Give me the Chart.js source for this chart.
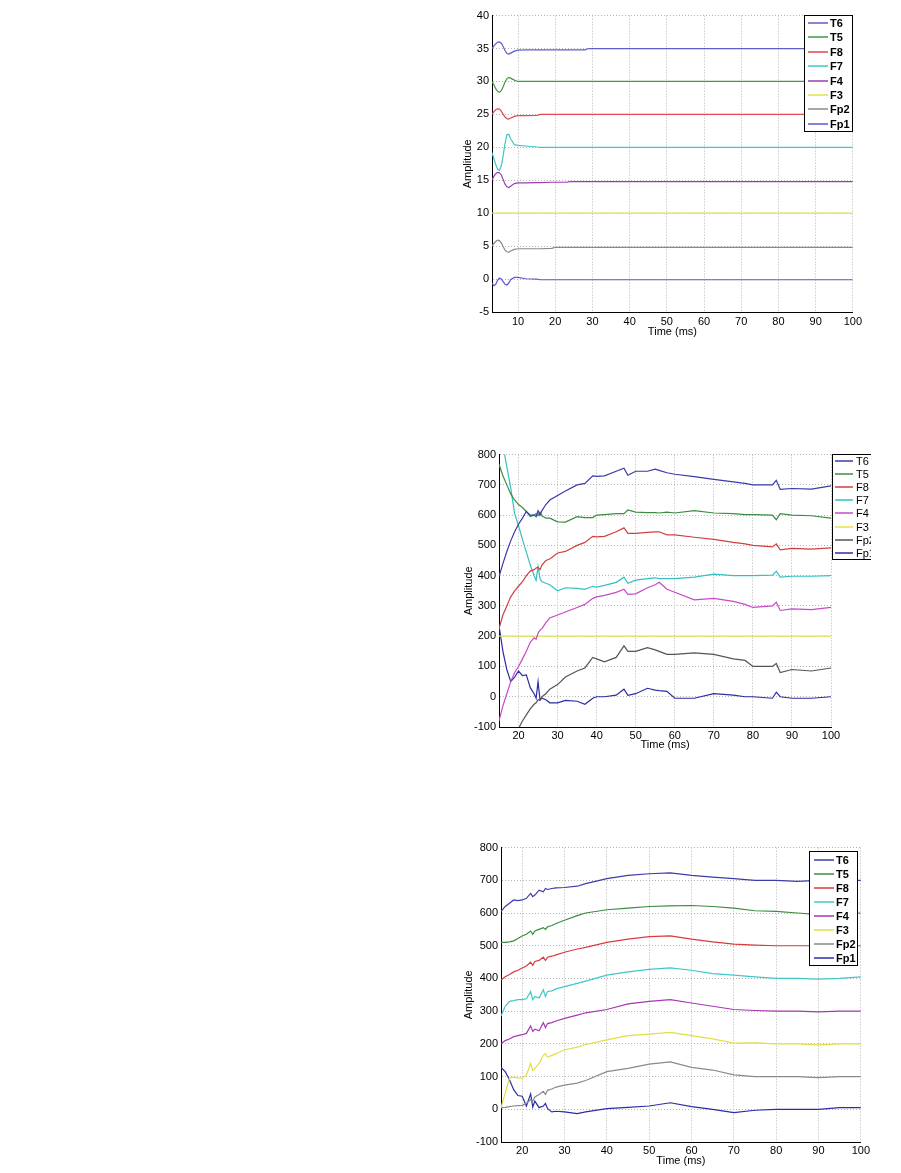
<!DOCTYPE html>
<html>
<head>
<meta charset="utf-8">
<title>EEG channel amplitudes</title>
<script src="https://cdn.jsdelivr.net/npm/chart.js@4.4.1/dist/chart.umd.min.js"></script>
<style>
  html, body { margin: 0; padding: 0; background: #fff; overflow: hidden; }
  body { width: 901px; height: 1173px; position: relative; }
  canvas { position: absolute; }
</style>
</head>
<body>
<canvas id="c1" width="407" height="336" style="left:458px;top:6px"></canvas>
<canvas id="c2" width="412" height="311" style="left:459px;top:445px"></canvas>
<canvas id="c3" width="413" height="334" style="left:459px;top:838px"></canvas>
<script>
// channel names, legend order (top line first)
var channels = ['T6', 'T5', 'F8', 'F7', 'F4', 'F3', 'Fp2', 'Fp1'];

// tick labels
var xTicks1 = [10, 20, 30, 40, 50, 60, 70, 80, 90, 100];
var yTicks1 = [-5, 0, 5, 10, 15, 20, 25, 30, 35, 40];
var xTicks23 = [20, 30, 40, 50, 60, 70, 80, 90, 100];
var yTicks23 = [-100, 0, 100, 200, 300, 400, 500, 600, 700, 800];

// --- chart 1 (top) : time (ms) and amplitudes ---
var t1 = [3, 3.5, 4, 4.5, 5, 5.5, 6, 6.5, 7, 7.5, 8, 9, 10, 12, 15, 16, 19, 20, 23, 24, 28, 29, 100];
var s1T6  = [35.0, 35.4, 35.7, 35.95, 36.0, 35.8, 35.3, 34.7, 34.25, 34.15, 34.3, 34.6, 34.75, 34.8, 34.8, 34.8, 34.8, 34.8, 34.8, 34.8, 34.8, 35.0, 35.0];
var s1T5  = [30.0, 29.5, 28.9, 28.5, 28.35, 28.6, 29.2, 29.9, 30.4, 30.6, 30.5, 30.2, 30.0, 30, 30, 30, 30, 30, 30, 30, 30, 30, 30];
var s1F8  = [25.0, 25.4, 25.7, 25.85, 25.8, 25.5, 25.0, 24.6, 24.35, 24.3, 24.45, 24.7, 24.8, 24.8, 24.85, 25, 25, 25, 25, 25, 25, 25, 25];
var s1F7  = [19.2, 18.3, 17.4, 16.7, 16.5, 17.2, 18.7, 20.6, 21.9, 22.0, 21.3, 20.4, 20.3, 20.2, 20.05, 20, 20, 20, 20, 20, 20, 20, 20];
var s1F4  = [15.0, 15.6, 16.0, 16.2, 16.15, 15.8, 15.1, 14.4, 14.0, 13.9, 14.1, 14.5, 14.6, 14.6, 14.65, 14.65, 14.7, 14.7, 14.7, 14.8, 14.8, 14.8, 14.8];
var s1F3  = [10, 10, 10, 10, 10, 10, 10, 10, 10, 10, 10, 10, 10, 10, 10, 10, 10, 10, 10, 10, 10, 10, 10];
var s1Fp2 = [5.0, 5.4, 5.7, 5.9, 5.85, 5.5, 4.9, 4.4, 4.15, 4.1, 4.25, 4.5, 4.6, 4.6, 4.6, 4.6, 4.65, 4.8, 4.8, 4.8, 4.8, 4.8, 4.8];
var s1Fp1 = [-0.6, -1.0, -0.8, -0.2, 0.15, 0.0, -0.4, -0.8, -0.9, -0.6, -0.1, 0.25, 0.25, 0.05, 0.0, -0.1, -0.1, -0.1, -0.1, -0.1, -0.1, -0.1, -0.1];

// --- chart 2 (middle) ---
var t2 = [15, 16, 17, 18, 19, 20, 21, 22, 23, 24, 24.5, 25, 25.5, 26, 27, 28, 30, 32, 35, 37, 39, 40, 42, 45, 47, 48, 50, 53, 55, 56, 58, 60, 65, 70, 75, 78, 80, 85, 86, 87, 90, 95, 100];
var s2T6  = [397, 440, 480, 515, 545, 570, 590, 612, 600, 600, 595, 615, 600, 615, 635, 650, 665, 680, 700, 705, 730, 728, 730, 745, 755, 732, 745, 745, 752, 748, 740, 735, 727, 718, 710, 705, 700, 700, 715, 685, 688, 686, 697];
var s2T5  = [768, 730, 700, 670, 650, 635, 625, 612, 595, 600, 605, 598, 610, 598, 590, 590, 578, 577, 595, 592, 592, 600, 602, 605, 605, 617, 610, 608, 608, 607, 610, 607, 615, 607, 605, 602, 602, 600, 585, 605, 600, 598, 590];
var s2F8  = [225, 270, 300, 330, 350, 365, 380, 400, 415, 420, 425, 428, 420, 435, 450, 455, 475, 480, 500, 510, 530, 528, 530, 545, 558, 540, 540, 543, 545, 545, 535, 535, 527, 520, 510, 505, 500, 495, 505, 485, 490, 488, 492];
var s2F7  = [880, 830, 760, 690, 605, 565, 520, 478, 435, 400, 385, 430, 390, 380, 375, 370, 350, 360, 358, 355, 365, 362, 368, 378, 395, 375, 385, 390, 393, 390, 390, 390, 395, 405, 400, 400, 400, 402, 415, 395, 398, 398, 400];
var s2F4  = [-80, -30, 10, 50, 80, 100, 125, 150, 180, 195, 190, 210, 220, 225, 245, 260, 270, 280, 295, 305, 325, 330, 335, 345, 355, 338, 340, 360, 370, 378, 355, 345, 320, 325, 315, 305, 295, 300, 312, 285, 290, 288, 295];
var s2F3  = [200, 200, 200, 200, 200, 200, 200, 200, 200, 200, 200, 200, 200, 200, 200, 200, 200, 200, 200, 200, 200, 200, 200, 200, 200, 200, 200, 200, 200, 200, 200, 200, 200, 200, 200, 200, 200, 200, 200, 200, 200, 200, 200];
var s2Fp2 = [-260, -230, -200, -170, -135, -105, -80, -60, -40, -25, -20, -10, -12, 0, 10, 25, 40, 65, 85, 95, 130, 125, 115, 130, 168, 150, 150, 162, 155, 150, 140, 140, 145, 140, 125, 120, 100, 100, 110, 80, 90, 85, 95];
var s2Fp1 = [235, 150, 90, 50, 65, 85, 70, 72, 30, 10, -5, 50, -10, -5, -10, -20, -20, -12, -15, -25, -5, 0, 0, 5, 25, 5, 10, 28, 22, 20, 18, -5, -5, 10, 5, 0, 0, -5, 15, 0, -5, -5, 0];

// --- chart 3 (bottom) ---
var t3 = [15, 16, 17, 18, 19, 20, 21, 22, 22.5, 23, 24, 25, 25.5, 26, 27, 28, 30, 33, 35, 40, 45, 50, 55, 60, 65, 70, 75, 80, 85, 90, 95, 100];
var s3T6  = [605, 620, 630, 640, 638, 640, 645, 660, 650, 655, 670, 665, 675, 672, 675, 677, 678, 682, 690, 705, 715, 720, 723, 715, 710, 705, 700, 700, 697, 700, 698, 700];
var s3T5  = [510, 510, 512, 515, 522, 530, 535, 545, 535, 545, 550, 555, 550, 558, 562, 568, 578, 592, 600, 610, 615, 620, 622, 623, 620, 615, 607, 605, 600, 595, 597, 600];
var s3F8  = [395, 405, 412, 420, 425, 432, 438, 450, 440, 452, 455, 465, 455, 465, 468, 472, 480, 490, 495, 510, 520, 528, 530, 520, 512, 505, 502, 500, 500, 500, 500, 500];
var s3F7  = [285, 315, 330, 332, 335, 335, 338, 360, 335, 345, 340, 365, 345, 360, 362, 368, 375, 385, 392, 410, 420, 428, 432, 425, 415, 410, 405, 400, 400, 398, 400, 405];
var s3F4  = [200, 210, 215, 222, 225, 228, 232, 255, 238, 245, 240, 265, 250, 262, 265, 270, 278, 288, 295, 305, 322, 330, 335, 325, 315, 305, 302, 300, 300, 298, 300, 300];
var s3F3  = [5, 50, 95, 98, 96, 95, 105, 140, 118, 125, 140, 165, 170, 160, 165, 170, 182, 190, 198, 212, 225, 230, 235, 225, 215, 202, 203, 200, 200, 197, 200, 200];
var s3Fp2 = [5, 6, 8, 10, 11, 12, 18, 30, 25, 38, 45, 55, 45, 58, 62, 68, 74, 80, 88, 115, 125, 138, 145, 128, 120, 105, 100, 100, 100, 97, 100, 100];
var s3Fp1 = [128, 115, 90, 60, 42, 40, 10, 47, 7, 25, 5, 10, 18, 2, -8, -6, -8, -13, -8, 2, 6, 10, 20, 8, 0, -10, -3, 0, 0, 0, 5, 5];

// line colours per chart
var colors1 = ['#5f5fc8', '#3f9a48', '#dc4a52', '#3cc8c8', '#9a3cb0', '#e2e24e', '#8a8a8a', '#5a5ad0'];
var colors2 = ['#3a3aaa', '#3c8c40', '#d04040', '#34c0c0', '#c848c8', '#e2e24a', '#555555', '#2c2ca4'];
var colors3 = ['#3c3caa', '#3c8c40', '#d83c40', '#40c8c8', '#a838b0', '#e0e044', '#8a8a8a', '#2c2caa'];

(function() {
  'use strict';

  var FONT = "'Liberation Sans', Arial, sans-serif";

  function pts(t, v) {
    return t.map(function(x, i) { return { x: x, y: v[i] }; });
  }

  /** MATLAB-style legend: white box with black frame inside the plot. */
  var boxLegend = {
    id: 'boxLegend',
    afterDatasetsDraw: function(chart, args, o) {
      var ctx = chart.ctx, a = chart.chartArea;
      var x = Math.round(a[o.anchor] + o.dx), y = Math.round(a.top + o.dy);
      ctx.save();
      ctx.fillStyle = '#fff';
      ctx.fillRect(x, y, o.w, o.h);
      ctx.strokeStyle = '#000';
      ctx.lineWidth = 1;
      ctx.strokeRect(x + 0.5, y + 0.5, o.w, o.h);
      ctx.font = o.font;
      ctx.textBaseline = 'middle';
      ctx.textAlign = 'left';
      chart.data.datasets.forEach(function(ds, i) {
        var ry = Math.round(y + o.row0 + i * o.step);
        ctx.strokeStyle = ds.borderColor;
        ctx.lineWidth = 1.5;
        ctx.beginPath();
        ctx.moveTo(x + o.l0, ry);
        ctx.lineTo(x + o.l1, ry);
        ctx.stroke();
        ctx.fillStyle = '#000';
        ctx.fillText(ds.label, x + o.tx, ry + 1);
      });
      ctx.restore();
    }
  };

  function axis(min, max, ticks, title, fit, tickPad, titlePad) {
    return {
      type: 'linear',
      min: min,
      max: max,
      afterBuildTicks: function(s) {
        s.ticks = ticks.map(function(v) { return { value: v }; });
      },
      afterFit: fit,
      ticks: { color: '#000', font: { family: FONT, size: 11 }, padding: tickPad, autoSkip: false, maxRotation: 0 },
      grid: { color: '#b4b4b4', lineWidth: 1, drawTicks: false },
      border: { display: true, color: '#000', width: 1, dash: [1, 2] },
      title: { display: true, text: title, color: '#000', font: { family: FONT, size: 11 }, padding: titlePad }
    };
  }

  function makeChart(id, t, series, colors, o) {
    var datasets = series.map(function(v, i) {
      return {
        label: channels[i],
        data: pts(t, v),
        borderColor: colors[i],
        borderWidth: 1.2,
        pointRadius: 0,
        tension: 0,
        fill: false
      };
    });
    return new Chart(document.getElementById(id), {
      type: 'line',
      data: { datasets: datasets },
      plugins: [boxLegend],
      options: {
        responsive: false,
        animation: false,
        events: [],
        layout: { padding: { top: 8, right: o.padRight, left: 0, bottom: 0 } },
        plugins: {
          legend: { display: false },
          tooltip: { enabled: false },
          boxLegend: o.legend
        },
        scales: {
          x: axis(o.xMin, 100, o.xTicks, 'Time (ms)',
            function(s) { s.height = o.xH; }, o.xTickPad, { top: 0, bottom: o.titleBottom }),
          y: axis(o.yMin, o.yMax, o.yTicks, 'Amplitude',
            function(s) { s.width = o.yW; }, 3, { top: 3, bottom: 0 })
        }
      }
    });
  }

  makeChart('c1', t1, [s1T6, s1T5, s1F8, s1F7, s1F4, s1F3, s1Fp2, s1Fp1], colors1, {
    xMin: 3, yMin: -5, yMax: 40, xTicks: xTicks1, yTicks: yTicks1,
    yW: 34, xH: 30, xTickPad: 3, titleBottom: 3, padRight: 10,
    legend: { anchor: 'right', dx: -49, dy: -1, w: 48, h: 116, row0: 8, step: 14.4,
              l0: 4, l1: 24, tx: 26, font: 'bold 11px ' + FONT }
  });

  makeChart('c2', t2, [s2T6, s2T5, s2F8, s2F7, s2F4, s2F3, s2Fp2, s2Fp1], colors2, {
    xMin: 15, yMin: -100, yMax: 800, xTicks: xTicks23, yTicks: yTicks23,
    yW: 40, xH: 29, xTickPad: 2, titleBottom: 4, padRight: 40,
    legend: { anchor: 'right', dx: 1, dy: -1, w: 60, h: 105, row0: 7, step: 13.1,
              l0: 3, l1: 21, tx: 24, font: '11px ' + FONT }
  });

  makeChart('c3', t3, [s3T6, s3T5, s3F8, s3F7, s3F4, s3F3, s3Fp2, s3Fp1], colors3, {
    xMin: 15, yMin: -100, yMax: 800, xTicks: xTicks23, yTicks: yTicks23,
    yW: 42, xH: 30, xTickPad: 2, titleBottom: 4, padRight: 10,
    legend: { anchor: 'right', dx: -52, dy: 3, w: 48, h: 114, row0: 8.7, step: 14.1,
              l0: 5, l1: 25, tx: 27, font: 'bold 11px ' + FONT }
  });
})();
</script>
</body>
</html>
